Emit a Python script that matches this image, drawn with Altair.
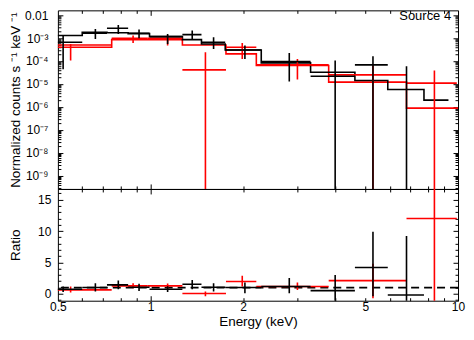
import json
import altair as alt
import pandas as pd

# ---------------- data ----------------
# black spectrum (energy bins in keV, normalized counts s^-1 keV^-1)
blk_e_lo = [0.44, 0.600, 0.722, 0.846, 0.993, 1.270, 1.465, 1.750, 2.292, 3.316, 4.621, 5.91]
blk_e_hi = [0.600, 0.722, 0.846, 0.993, 1.270, 1.465, 1.750, 2.292, 3.316, 4.621, 5.91, 7.75]
blk_e_c = [0.52, 0.662, 0.786, 0.918, 1.137, 1.367, 1.604, 2.028, 2.827, 3.986, 5.29, 6.80]
blk_val = [6.5e-4, 1.61e-3, 2.65e-3, 1.61e-3, 1.15e-3, 1.41e-3, 6.5e-4, 3.03e-4, 9.5e-5, 2.18e-5, 6.76e-5, -2e-6]
blk_lo = [4.4e-5, 9.1e-4, 1.5e-3, 9.75e-4, 5.5e-4, 8.55e-4, 3.34e-4, 1.23e-4, 1.29e-5, 0, 0, 0]
blk_hi = [1.28e-3, 2.47e-3, 3.68e-3, 2.32e-3, 1.5e-3, 2.1e-3, 1.08e-3, 4.7e-4, 2.24e-4, 1.05e-4, 1.61e-4, 5.9e-5]
blk_mod_edges = [0.44, 0.600, 0.722, 0.846, 0.993, 1.270, 1.465, 1.750, 2.292, 3.316, 4.621, 5.91, 7.75, 9.31]
blk_mod = [1.28e-3, 1.77e-3, 1.70e-3, 1.55e-3, 1.15e-3, 8.55e-4, 5.5e-4, 3.03e-4, 8.26e-5, 3.26e-5, 1.42e-5, 5.78e-6, 1.99e-6]

# red spectrum
red_e_lo = [0.45, 0.748, 0.98, 1.27, 1.76, 2.209, 3.797, 6.8]
red_e_hi = [0.748, 0.98, 1.27, 1.76, 2.209, 3.797, 6.8, 9.91]
red_e_c = [0.55, 0.878, 1.137, 1.509, 1.988, 3.005, 5.29, 8.38]
red_val = [4.99e-4, 9.75e-4, 9.75e-4, 4.1e-5, 3.96e-4, 6.76e-5, 2.49e-5, 1.09e-5]
red_lo = [1.05e-4, 6.1e-4, 4.7e-4, 0, 1.23e-4, 1.57e-5, 0, 0]
red_hi = [5.5e-4, 1.28e-3, 1.36e-3, 2.4e-4, 6.1e-4, 1.23e-4, 6.37e-5, 3.86e-5]
red_mod_edges = [0.45, 0.748, 0.98, 1.27, 1.76, 2.209, 3.797, 6.8, 10.0]
red_mod = [3.96e-4, 8.55e-4, 8.55e-4, 4.99e-4, 2.04e-4, 6.37e-5, 1.2e-5, 8.93e-7]

# ratio panel
blk_ratio = [0.73, 1.0, 1.43, 1.05, 0.73, 1.52, 1.05, 1.0, 1.16, 0.5, 4.2, -0.2]
blk_ratio_lo = [0.3, 0.37, 0.73, 0.45, 0.3, 0.73, 0.37, 0.1, 0.1, -1.5, -0.4, -1.5]
blk_ratio_hi = [1.15, 1.7, 2.1, 1.6, 1.2, 2.2, 1.7, 1.8, 2.5, 3.0, 9.9, 9.2]
red_ratio = [0.63, 1.27, 1.27, 0.05, 1.95, 1.16, 2.1, 12.0]
red_ratio_lo = [0.2, 0.9, 0.85, -0.4, 1.16, 0.6, -0.7, -2.0]
red_ratio_hi = [1.16, 1.7, 1.65, 0.37, 2.86, 1.8, 4.8, 30.0]

# axis ticks / labels
x_major = [1, 10]
x_minor = [0.6, 0.7, 0.8, 0.9, 2, 3, 4, 5, 6, 7, 8, 9]
x_labels = [0.5, 1, 2, 5, 10]
y_major = [1e-9, 1e-8, 1e-7, 1e-6, 1e-5, 1e-4, 1e-3, 1e-2]
y_label_text = ["10⁻⁹", "10⁻⁸", "10⁻⁷", "10⁻⁶", "10⁻⁵", "10⁻⁴", "10⁻³", "0.01"]
r_major = [0, 5, 10, 15]
r_minor = [-1, 1, 2, 3, 4, 6, 7, 8, 9, 11, 12, 13, 14, 16]

# ---------------- layout ----------------
W, H1, H2 = 401, 179, 112
XDOM = [0.5, 10]
YDOM = [2.7e-10, 0.016]
RDOM = [-1.1, 16.7]
YMIN_CLIP = 1e-13
y_minor = [k * 10.0 ** n for n in range(-10, -1) for k in range(2, 10)
           if YDOM[0] <= k * 10.0 ** n <= YDOM[1]]

xs = alt.Scale(type="log", domain=XDOM, nice=False)
ys = alt.Scale(type="log", domain=YDOM, nice=False)
rs = alt.Scale(type="linear", domain=RDOM, nice=False, zero=False)

BLACK = "#000000"
RED = "#ff0000"
LW = 1.6
MAJ, MIN = 5, 3
TITLE_FS = 13.5


def tick_axis(orient, offset, values, size):
    return alt.Axis(orient=orient, offset=offset, values=values, tickSize=size,
                    ticks=True, labels=False, domain=False, grid=False, title=None,
                    tickColor="black", tickWidth=1)


def carrier(xaxis, yaxis, yscale, yval):
    df = pd.DataFrame({"x": [1.0], "y": [yval]})
    return alt.Chart(df).mark_point(opacity=0).encode(
        x=alt.X("x:Q", scale=xs, axis=xaxis),
        y=alt.Y("y:Q", scale=yscale, axis=yaxis),
    )


def step_df(edges, vals):
    return pd.DataFrame({"e": edges, "v": list(vals) + [vals[-1]]})


def hbar_df(lo, hi, val, positive):
    d = pd.DataFrame({"lo": lo, "hi": hi, "v": val})
    if positive:
        d = d[d["v"] > 0]
    return d


def vbar_df(c, lo, hi, positive):
    lo2 = [(l if l > 0 else YMIN_CLIP) for l in lo] if positive else lo
    return pd.DataFrame({"c": c, "lo": lo2, "hi": hi})


def hbars(df, color, yscale):
    return alt.Chart(df).mark_rule(color=color, strokeWidth=LW, clip=True).encode(
        x=alt.X("lo:Q", scale=xs, axis=None), x2="hi:Q",
        y=alt.Y("v:Q", scale=yscale, axis=None))


def vbars(df, color, yscale):
    return alt.Chart(df).mark_rule(color=color, strokeWidth=LW, clip=True).encode(
        x=alt.X("c:Q", scale=xs, axis=None),
        y=alt.Y("lo:Q", scale=yscale, axis=None), y2="hi:Q")


def steps(df, color):
    return alt.Chart(df).mark_line(color=color, strokeWidth=LW, interpolate="step-after",
                                   clip=True).encode(
        x=alt.X("e:Q", scale=xs, axis=None),
        y=alt.Y("v:Q", scale=ys, axis=None))


# ---------------- top panel ----------------
ylab_expr = json.dumps(y_label_text, ensure_ascii=False) + "[round(log(datum.value)/LN10)+9]"
top_label_axis = alt.Axis(orient="left", values=y_major, labelExpr=ylab_expr, ticks=False,
                          tickSize=0, domain=False, grid=False, labelPadding=10,
                          labelFlush=False, labelOverlap=False,
                          title="Normalized counts s ⁻¹ keV ⁻¹", titleX=-42, titleY=H1 / 2,
                          titleBaseline="middle", titleAlign="center")

top_layers = [
    carrier(tick_axis("bottom", -H1, x_major, MAJ), top_label_axis, ys, 1e-5),
    carrier(tick_axis("bottom", -H1, x_minor, MIN), tick_axis("right", -W, y_major, MAJ), ys, 1e-5),
    carrier(tick_axis("top", -H1, x_major, MAJ), tick_axis("right", -W, y_minor, MIN), ys, 1e-5),
    carrier(tick_axis("top", -H1, x_minor, MIN), tick_axis("left", -W, y_major, MAJ), ys, 1e-5),
    carrier(None, tick_axis("left", -W, y_minor, MIN), ys, 1e-5),
    steps(step_df(red_mod_edges, red_mod), RED),
    steps(step_df(blk_mod_edges, blk_mod), BLACK),
    hbars(hbar_df(red_e_lo, red_e_hi, red_val, True), RED, ys),
    vbars(vbar_df(red_e_c, red_lo, red_hi, True), RED, ys),
    hbars(hbar_df(blk_e_lo, blk_e_hi, blk_val, True), BLACK, ys),
    vbars(vbar_df(blk_e_c, blk_lo, blk_hi, True), BLACK, ys),
    alt.Chart(pd.DataFrame({"e": [9.5], "v": [0.0088], "t": ["Source 4"]})).mark_text(
        align="right", baseline="middle", fontSize=13, color="black").encode(
        x=alt.X("e:Q", scale=xs, axis=None), y=alt.Y("v:Q", scale=ys, axis=None), text="t:N"),
]
top = alt.layer(*top_layers).resolve_axis(x="independent", y="independent").properties(
    width=W, height=H1)

# ---------------- ratio panel ----------------
ratio_label_axis = alt.Axis(orient="left", values=r_major, format="d", ticks=False, tickSize=0,
                            domain=False, grid=False, labelPadding=7, labelFlush=False,
                            title="Ratio", titleX=-42, titleY=H2 / 2,
                            titleBaseline="middle", titleAlign="center")
x_label_axis = alt.Axis(orient="bottom", values=x_labels, format="~g", ticks=False, tickSize=0,
                        domain=False, grid=False, labelPadding=1, labelFlush=False,
                        labelOverlap=False, title="Energy (keV)", titlePadding=2)

bot_layers = [
    carrier(tick_axis("bottom", -H2, x_major, MAJ), ratio_label_axis, rs, 1.0),
    carrier(tick_axis("bottom", -H2, x_minor, MIN), tick_axis("right", -W, r_major, MAJ), rs, 1.0),
    carrier(tick_axis("top", -H2, x_major, MAJ), tick_axis("right", -W, r_minor, MIN), rs, 1.0),
    carrier(tick_axis("top", -H2, x_minor, MIN), tick_axis("left", -W, r_major, MAJ), rs, 1.0),
    carrier(x_label_axis, tick_axis("left", -W, r_minor, MIN), rs, 1.0),
    alt.Chart(pd.DataFrame({"r": [1.0]})).mark_rule(
        color="black", strokeWidth=1.8, strokeDash=[8, 5]).encode(
        y=alt.Y("r:Q", scale=rs, axis=None)),
    hbars(hbar_df(red_e_lo, red_e_hi, red_ratio, False), RED, rs),
    vbars(vbar_df(red_e_c, red_ratio_lo, red_ratio_hi, False), RED, rs),
    hbars(hbar_df(blk_e_lo, blk_e_hi, blk_ratio, False), BLACK, rs),
    vbars(vbar_df(blk_e_c, blk_ratio_lo, blk_ratio_hi, False), BLACK, rs),
]
bottom = alt.layer(*bot_layers).resolve_axis(x="independent", y="independent").properties(
    width=W, height=H2)

chart = alt.vconcat(top, bottom, spacing=0, bounds="flush").properties(
    padding={"left": 0, "top": 0, "right": 0, "bottom": 0}).configure(
    font="Liberation Sans").configure_view(stroke="black", strokeWidth=1).configure_axis(
    labelFontSize=12, titleFontSize=TITLE_FS, labelColor="black", titleColor="black",
    titleFontWeight="normal", labelFont="Liberation Sans", titleFont="Liberation Sans")

chart.save("out.html", embed_options={"renderer": "svg", "actions": False})
